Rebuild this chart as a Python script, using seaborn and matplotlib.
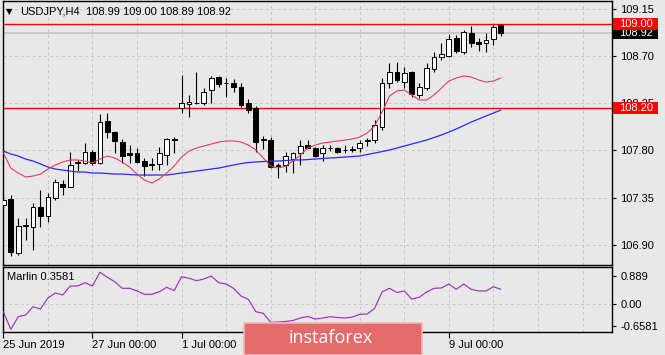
import numpy as np
import pandas as pd
import matplotlib
matplotlib.use("Agg")
import matplotlib.pyplot as plt
from matplotlib.patches import Rectangle
import seaborn as sns

# ---------------- data ----------------
opens = [107.28, 107.34, 106.82, 107.08, 107.07, 107.26, 107.17, 107.35, 107.48, 107.45,
         107.68, 107.68, 107.78, 107.68, 108.08, 107.97, 107.88, 107.77, 107.77, 107.70,
         107.66, 107.67, 107.76, 107.91, 108.20, 108.24, 108.25, 108.25, 108.37, 108.50,
         108.44, 108.44, 108.40, 108.25, 108.20, 107.90, 107.90, 107.65, 107.66, 107.72,
         107.77, 107.85, 107.82, 107.77, 107.82, 107.82, 107.80, 107.80, 107.82, 107.89,
         107.90, 108.02, 108.44, 108.55, 108.45, 108.55, 108.33, 108.39, 108.57, 108.69,
         108.70, 108.87, 108.74, 108.92, 108.83, 108.82, 108.86, 108.99]
highs = [107.42, 107.37, 107.16, 107.16, 107.30, 107.42, 107.39, 107.53, 107.52, 107.78,
         107.71, 107.87, 107.80, 108.15, 108.16, 107.98, 107.91, 107.85, 107.82, 107.73,
         107.73, 107.83, 107.92, 107.93, 108.52, 108.33, 108.55, 108.39, 108.51, 108.51,
         108.49, 108.48, 108.44, 108.29, 108.22, 107.94, 107.93, 107.68, 107.78, 107.78,
         107.90, 107.90, 107.83, 107.85, 107.85, 107.83, 107.85, 107.84, 107.90, 107.92,
         108.09, 108.49, 108.63, 108.64, 108.59, 108.56, 108.44, 108.63, 108.74, 108.82,
         108.91, 108.90, 108.95, 108.98, 108.87, 108.92, 108.99, 109.00]
lows = [107.26, 106.79, 106.80, 106.95, 106.85, 107.07, 107.12, 107.33, 107.37, 107.45,
        107.60, 107.67, 107.66, 107.67, 107.92, 107.77, 107.68, 107.68, 107.68, 107.56,
        107.61, 107.61, 107.66, 107.77, 108.16, 108.12, 108.24, 108.23, 108.25, 108.40,
        108.31, 108.36, 108.21, 108.16, 107.78, 107.81, 107.63, 107.54, 107.59, 107.58,
        107.66, 107.82, 107.74, 107.70, 107.79, 107.77, 107.77, 107.78, 107.78, 107.84,
        107.87, 107.99, 108.39, 108.45, 108.39, 108.31, 108.30, 108.37, 108.55, 108.66,
        108.69, 108.73, 108.72, 108.78, 108.75, 108.74, 108.80, 108.89]
closes = [107.33, 106.83, 107.08, 107.09, 107.26, 107.17, 107.36, 107.50, 107.45, 107.66,
          107.69, 107.78, 107.68, 108.07, 107.97, 107.89, 107.75, 107.76, 107.69, 107.65,
          107.67, 107.77, 107.91, 107.90, 108.25, 108.26, 108.25, 108.36, 108.49, 108.43,
          108.44, 108.40, 108.23, 108.18, 107.88, 107.90, 107.64, 107.66, 107.75, 107.77,
          107.84, 107.82, 107.75, 107.82, 107.82, 107.78, 107.80, 107.81, 107.87, 107.90,
          108.04, 108.44, 108.55, 108.47, 108.54, 108.34, 108.40, 108.58, 108.69, 108.72,
          108.86, 108.75, 108.93, 108.82, 108.81, 108.85, 108.97, 108.92]
ma_fast = [107.774, 107.631, 107.584, 107.546, 107.555, 107.574, 107.622, 107.660, 107.689, 107.708,
           107.708, 107.698, 107.679, 107.717, 107.746, 107.727, 107.689, 107.641, 107.574, 107.517,
           107.488, 107.527, 107.584, 107.650, 107.736, 107.793, 107.822, 107.841, 107.860, 107.879,
           107.889, 107.889, 107.879, 107.850, 107.803, 107.727, 107.650, 107.631, 107.650, 107.698,
           107.755, 107.822, 107.850, 107.870, 107.879, 107.889, 107.898, 107.908, 107.927, 107.965,
           108.031, 108.165, 108.317, 108.365, 108.374, 108.327, 108.279, 108.279, 108.327, 108.393,
           108.460, 108.489, 108.508, 108.498, 108.470, 108.450, 108.460, 108.489]
ma_slow = [107.793, 107.765, 107.746, 107.717, 107.698, 107.670, 107.641, 107.622, 107.612, 107.603,
           107.593, 107.593, 107.584, 107.584, 107.579, 107.574, 107.574, 107.569, 107.565, 107.565,
           107.565, 107.565, 107.565, 107.574, 107.584, 107.593, 107.603, 107.612, 107.622, 107.631,
           107.646, 107.660, 107.674, 107.684, 107.689, 107.693, 107.698, 107.698, 107.703, 107.708,
           107.708, 107.712, 107.717, 107.722, 107.727, 107.731, 107.736, 107.741, 107.746, 107.760,
           107.774, 107.788, 107.803, 107.822, 107.841, 107.860, 107.879, 107.898, 107.922, 107.946,
           107.974, 108.003, 108.036, 108.069, 108.098, 108.127, 108.155, 108.184]
marlin = [-0.175, -0.594, -0.294, -0.253, -0.056, -0.111, 0.151, 0.270, 0.223, 0.437,
          0.437, 0.515, 0.437, 0.763, 0.644, 0.539, 0.382, 0.382, 0.318, 0.239,
          0.239, 0.301, 0.406, 0.325, 0.658, 0.620, 0.563, 0.603, 0.675, 0.515,
          0.484, 0.382, 0.199, 0.120, -0.175, -0.213, -0.427, -0.420, -0.408, -0.384,
          -0.325, -0.289, -0.349, -0.325, -0.294, -0.313, -0.325, -0.301, -0.237, -0.230,
          -0.094, 0.294, 0.382, 0.282, 0.318, 0.127, 0.168, 0.294, 0.382, 0.389,
          0.484, 0.358, 0.484, 0.358, 0.318, 0.318, 0.420, 0.3581]
# visible date labels (3 Jul / 5 Jul are hidden under the watermark in the reference)
date_labels = ["25 Jun 2019", "27 Jun 00:00", "1 Jul 00:00", "9 Jul 00:00"]
date_label_bars = [0, 12, 24, 60]
price_ticks = [106.90, 107.35, 107.80, 108.25, 108.70, 109.15]
level_lines = [109.00, 108.20]
bid_price = 108.92
marlin_max, marlin_min = 0.889, -0.6581

# ---------------- style ----------------
sns.set_style("white")
plt.rcParams['font.family'] = ['Liberation Sans', 'DejaVu Sans']
BG = '#E8E8E8'
GRID = '#C6C6C6'
W, H = 665, 355

df = pd.DataFrame({'bar': np.arange(len(opens)), 'open': opens, 'high': highs,
                   'low': lows, 'close': closes, 'ma_fast': ma_fast,
                   'ma_slow': ma_slow, 'marlin': marlin})

fig = plt.figure(figsize=(W / 100, H / 100), dpi=100)
fig.patch.set_facecolor(BG)
ax = fig.add_axes([3 / W, 1 - 265 / H, 609 / W, 264 / H])
ax2 = fig.add_axes([3 / W, 1 - 332 / H, 609 / W, 65 / H])
x_right = 81.97
for a in (ax, ax2):
    a.set_facecolor(BG)
    a.set_xlim(-0.05, x_right)
    for s in a.spines.values():
        s.set_color('black')
        s.set_linewidth(1.0)
    for k in range(6, 84, 6):
        a.axvline(k, color=GRID, lw=0.7, ls=(0, (3, 3)), zorder=0)

# ---------------- main price panel ----------------
ax.set_ylim(106.708, 109.222)
for p in price_ticks:
    ax.axhline(p, color=GRID, lw=0.7, ls=(0, (3, 3)), zorder=0)
ax.axhline(bid_price, color='#C8C8C8', lw=1.4, zorder=1)
for lv in level_lines:
    ax.axhline(lv, color='#FF0000', lw=1.0, zorder=1.5)

bx = df['bar'].values
o = df['open'].values
c = df['close'].values
ax.vlines(bx, df['low'], df['high'], color='black', lw=0.8, zorder=3)
body_bottom = np.minimum(o, c)
body_h = np.maximum(np.abs(c - o), 0.004)
body_col = np.where(c >= o, 'white', 'black')
ax.bar(bx, body_h, bottom=body_bottom, width=0.64, color=body_col,
       edgecolor='black', linewidth=0.7, zorder=4)

sns.lineplot(data=df, x='bar', y='ma_slow', ax=ax, color='#2828FF', linewidth=0.9, zorder=5)
sns.lineplot(data=df, x='bar', y='ma_fast', ax=ax, color='#E53358', linewidth=0.75, zorder=5)
ax.set_xlabel('')
ax.set_ylabel('')
ax.set_xticks([])
ax.yaxis.tick_right()
ax.set_yticks(price_ticks)
ax.set_yticklabels([f"{p:.2f}" for p in price_ticks])
ax.tick_params(axis='y', which='both', length=3, width=0.8, pad=3, labelsize=8,
               colors='black', right=True, left=False)

# price labels on the right axis
ytr = ax.get_yaxis_transform()
bw, bh = 45 / 609, 12 / 105
ax.add_patch(Rectangle((1.0015, bid_price - bh / 2), bw, bh, transform=ytr,
                       facecolor='black', edgecolor='none', clip_on=False, zorder=20))
ax.text(1.0 + 7 / 609, bid_price, f"{bid_price:.2f}", transform=ytr, color='white',
        fontsize=8, va='center', ha='left', clip_on=False, zorder=21)
for lv in level_lines:
    ax.add_patch(Rectangle((1.0015, lv - bh / 2), bw, bh, transform=ytr,
                           facecolor='#FF0000', edgecolor='none', clip_on=False, zorder=22))
    ax.text(1.0 + 7 / 609, lv, f"{lv:.2f}", transform=ytr, color='white',
            fontsize=8, va='center', ha='left', clip_on=False, zorder=23)

# title
fig.text(6 / W, 1 - 12 / H, "\u25BC", fontsize=6, va='center', ha='left', color='black',
         family=['DejaVu Sans'])
fig.text(20 / W, 1 - 12 / H, "USDJPY,H4", fontsize=8, va='center', ha='left', color='black')
fig.text(86 / W, 1 - 12 / H, f"{opens[-1]:.2f} {highs[-1]:.2f} {lows[-1]:.2f} {closes[-1]:.2f}",
         fontsize=8, va='center', ha='left', color='black')

# ---------------- Marlin panel ----------------
ax2.set_ylim(marlin_min, marlin_max)
ax2.axhline(0, color=GRID, lw=0.7, ls=(0, (3, 3)), zorder=0)
sns.lineplot(data=df, x='bar', y='marlin', ax=ax2, color='#A030C0', linewidth=0.85, zorder=5)
ax2.set_xlabel('')
ax2.set_ylabel('')
ax2.yaxis.tick_right()
mt = [marlin_max - 9 * 0.0238, 0.0, marlin_min + 6 * 0.0238]
ax2.set_yticks(mt)
ax2.set_yticklabels([f"{marlin_max:.3f}", "0.00", f"{marlin_min:.4f}"])
ax2.tick_params(axis='y', length=3, width=0.8, pad=3, labelsize=8, colors='black',
                right=True, left=False)
ax2.set_xticks(date_label_bars)
ax2.set_xticklabels(date_labels)
for lbl in ax2.get_xticklabels():
    lbl.set_ha('left')
ax2.tick_params(axis='x', length=4, width=0.8, pad=2, labelsize=8, colors='black',
                bottom=True)
ax2.text(4 / 609, 1 - 10.5 / 65, f"Marlin {marlin[-1]:.4f}", transform=ax2.transAxes,
         fontsize=8, va='center', ha='left', color='black')

# watermark box
fig.add_artist(Rectangle((244 / W, 0), 178 / W, 32 / H, transform=fig.transFigure,
                         facecolor='#E36B6B', edgecolor='#F3B5B5', lw=1.2, zorder=30))
fig.text(331 / W, (H - 338) / H, "instaforex", fontsize=13, color='white', ha='center',
         va='center', family=['Open Sans', 'DejaVu Sans'], zorder=31)

fig.savefig("out.png", dpi=100, facecolor=BG)
